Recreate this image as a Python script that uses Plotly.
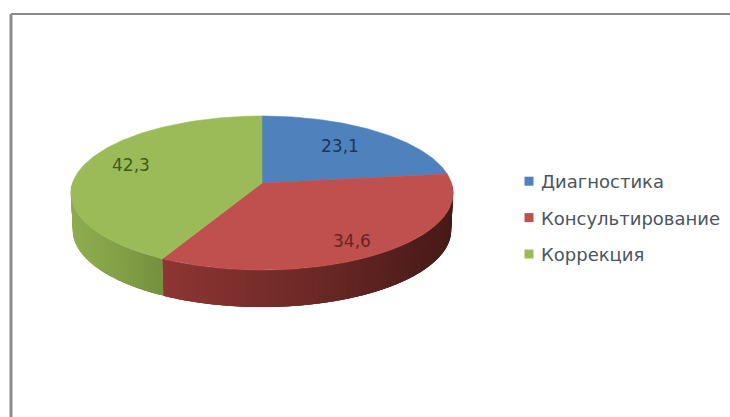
import numpy as np
import plotly.graph_objects as go

categories = ["Диагностика", "Консультирование", "Коррекция"]
values = [23.1, 34.6, 42.3]
colors = ["#4f81bd", "#c0504d", "#9bbb59"]
label_colors = ["#17375e", "#632523", "#3f5a1c"]
side_stops = [None, ("#8f3634", "#6f2a28", "#471a18"), ("#8fad50", "#85a248", "#76913f")]
label_pos = [(340, 146), (352, 241), (131, 165)]

CX, CY, RX, RY, K, DEPTH = 262, 183, 189.5, 75.7, 0.13, 37


def project(theta, drop=0.0):
    u, v = np.sin(theta), np.cos(theta)
    w = 1 + K * v
    s = 1 - 0.01 * (drop / DEPTH)
    return CX + s * RX * u / w, CY - RY * v / w + drop


def hex_rgb(h):
    return np.array([int(h[i:i + 2], 16) for i in (1, 3, 5)], dtype=float)


def side_color(stops, t):
    a, b, c = [hex_rgb(s) for s in stops]
    col = a + (b - a) * t * 2 if t < 0.5 else b + (c - b) * (t - 0.5) * 2
    return "rgb(%d,%d,%d)" % tuple(col)


fig = go.Figure()
total = sum(values)
edges = np.deg2rad(np.cumsum([0] + values) / total * 360)

# side wall, drawn first so the top surface covers its back half.
# Strips overlap so that no seams show.
for i in range(len(values)):
    if side_stops[i] is None:
        continue
    a0, a1 = max(edges[i], np.pi / 2), min(edges[i + 1], 3 * np.pi / 2)
    steps = np.linspace(a0, a1, 61)
    xs_all = project(steps)[0]
    lo, hi = xs_all.min(), xs_all.max()
    for j in range(len(steps) - 1):
        s0, s1 = steps[j], steps[min(j + 3, len(steps) - 1)]
        arc = np.linspace(s0, s1, 6)
        tx, ty = project(arc)
        bx, by = project(arc[::-1], DEPTH)
        t = (project(steps[j])[0] - lo) / (hi - lo)
        col = side_color(side_stops[i], t)
        fig.add_trace(go.Scatter(
            x=np.r_[tx, bx, tx[0]], y=np.r_[ty, by, ty[0]], mode="none",
            fill="toself", fillcolor=col,
            hoverinfo="skip", showlegend=False, legendgroup=categories[i]))

# top surface
for i, name in enumerate(categories):
    arc = np.linspace(edges[i], edges[i + 1], 120)
    ax, ay = project(arc)
    fig.add_trace(go.Scatter(
        x=np.r_[CX, ax, CX], y=np.r_[CY, ay, CY], mode="lines",
        fill="toself", fillcolor=colors[i], line=dict(color=colors[i], width=0.6),
        name=name, text=f"{name}: {values[i]}", hoverinfo="text",
        showlegend=False, legendgroup=name))

# legend entries with square keys
for i, name in enumerate(categories):
    fig.add_trace(go.Scatter(
        x=[None], y=[None], mode="markers", name=name, legendgroup=name,
        marker=dict(symbol="square", size=9, color=colors[i])))

for i, v in enumerate(values):
    fig.add_annotation(x=label_pos[i][0], y=label_pos[i][1], text=str(v).replace(".", ","),
                       showarrow=False, font=dict(family="DejaVu Sans", size=17, color=label_colors[i]))

# frame: only the top and left edges show
fig.add_shape(type="line", xref="paper", yref="paper", x0=11 / 730, x1=1, y0=1 - 14 / 417, y1=1 - 14 / 417,
              line=dict(color="#8c8c8c", width=2))
fig.add_shape(type="line", xref="paper", yref="paper", x0=11 / 730, x1=11 / 730, y0=0, y1=1 - 14 / 417,
              line=dict(color="#8c8c8c", width=3))

fig.update_layout(
    width=730, height=417, margin=dict(l=0, r=0, t=0, b=0),
    paper_bgcolor="white", plot_bgcolor="white", showlegend=True,
    xaxis=dict(range=[0, 730], visible=False, fixedrange=True),
    yaxis=dict(range=[417, 0], visible=False, fixedrange=True),
    legend=dict(x=501 / 730, xanchor="left", y=1 - 218 / 417, yanchor="middle",
                bgcolor="rgba(0,0,0,0)", tracegroupgap=10, itemclick=False, itemdoubleclick=False,
                font=dict(family="DejaVu Sans", size=18, color="#4a5560")),
)
fig.write_html("out.html", config={"displayModeBar": False},
               post_script=("document.body.style.margin='0';document.body.style.overflow='hidden';"
                            "document.querySelectorAll('.legend .legendpoints')"
                            ".forEach(function(p){p.setAttribute('transform','translate(8,0)');});"))
